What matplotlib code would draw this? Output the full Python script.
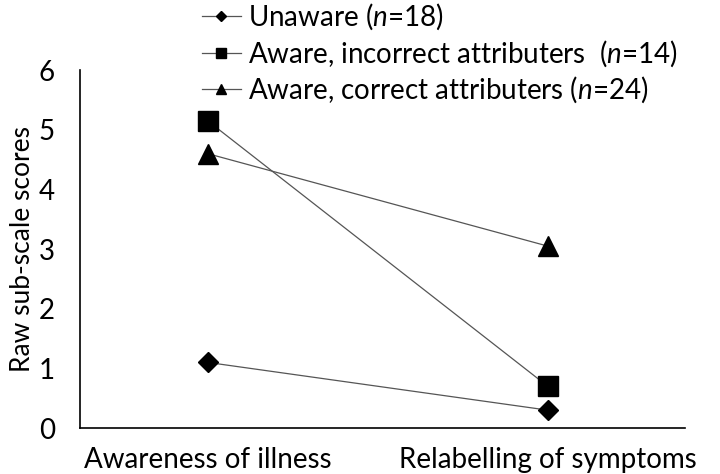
import matplotlib
matplotlib.use('Agg')
import matplotlib.pyplot as plt

plt.rcParams['font.family'] = ['Lato', 'DejaVu Sans']
plt.rcParams['mathtext.fontset'] = 'custom'
plt.rcParams['mathtext.rm'] = 'Lato'
plt.rcParams['mathtext.it'] = 'Lato:italic'

categories = ['Awareness of illness', 'Relabelling of symptoms']
unaware = [1.1, 0.3]
incorrect = [5.15, 0.7]
correct = [4.6, 3.05]
labels = ['Unaware ($\\it{n}$=18)',
          'Aware, incorrect attributers  ($\\it{n}$=14)',
          'Aware, correct attributers ($\\it{n}$=24)']

fig = plt.figure(figsize=(7.2, 4.74), dpi=100)
ax = fig.add_axes([0.111, 0.097, 0.84, 0.755])

x = range(len(categories))
h1, = ax.plot(x, unaware, color='#555555', lw=0.9, marker='D', ms=10,
              mfc='black', mec='black', label=labels[0])
h2, = ax.plot(x, incorrect, color='#555555', lw=0.9, marker='s', ms=14,
              mfc='black', mec='black', label=labels[1])
h3, = ax.plot(x, correct, color='#555555', lw=0.9, marker='^', ms=14,
              mfc='black', mec='black', label=labels[2])

ax.set_xlim(-0.376, 1.403)
ax.set_ylim(0, 6)
ax.set_yticks(range(7))
ax.set_xticks(list(x))
ax.set_xticklabels(categories)
ax.tick_params(axis='x', length=0, labelsize=20, pad=14)
ax.tick_params(axis='y', length=0, labelsize=20, pad=18)
ax.spines['top'].set_visible(False)
ax.spines['right'].set_visible(False)
ax.spines['left'].set_linewidth(1.2)
ax.spines['bottom'].set_linewidth(1.2)
ax.set_ylabel('Raw sub-scale scores', fontsize=19, labelpad=3)
for h in (h1, h2, h3):
    h.set_clip_on(False)

fig.legend(handles=[h1, h2, h3], loc='upper left', bbox_to_anchor=(0.265, 1.02),
           frameon=False, fontsize=20, handlelength=1.4, handletextpad=0.25,
           labelspacing=0.22, markerscale=0.55, borderaxespad=0)

fig.savefig('out.png', dpi=100)
